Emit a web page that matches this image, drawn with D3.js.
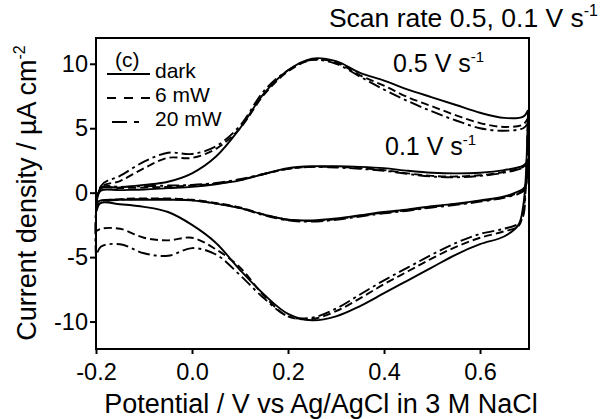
<!DOCTYPE html>
<html>
<head>
<meta charset="utf-8">
<script src="https://cdn.jsdelivr.net/npm/d3@7/dist/d3.min.js"></script>
<style>
  html, body { margin: 0; padding: 0; background: #fff; }
  svg text { font-family: "Liberation Sans", Arial, sans-serif; fill: #000; }
</style>
</head>
<body>
<svg id="chart" width="608" height="419"></svg>
<script>
// ---- Data ----
const potFwd = [-0.2, -0.19, -0.15, -0.1, -0.05, 0.0, 0.05, 0.1, 0.15, 0.2, 0.25, 0.3, 0.35, 0.4, 0.45, 0.5, 0.55, 0.6, 0.65, 0.69, 0.7];
const potRev = [0.7, 0.695, 0.69, 0.68, 0.65, 0.6, 0.55, 0.5, 0.45, 0.4, 0.35, 0.3, 0.25, 0.2, 0.15, 0.1, 0.05, 0.0, -0.05, -0.1, -0.15, -0.19, -0.2];

// 0.5 V/s
const dark05Fwd = [-1.5, 0.3, 0.4, 0.6, 0.85, 1.5, 2.8, 5.0, 7.7, 9.5, 10.4, 10.2, 9.3, 8.7, 8.0, 7.4, 6.8, 6.2, 5.8, 5.9, 6.4];
const dark05Rev = [6.4, 1.0, -1.0, -2.5, -3.4, -4.0, -4.8, -5.8, -6.8, -7.8, -8.8, -9.6, -9.9, -9.4, -7.9, -6.0, -3.9, -2.5, -1.5, -1.1, -0.9, -0.8, -1.5];
const mw6_05Fwd = [-3.0, 0.4, 0.9, 1.9, 2.7, 2.7, 3.4, 5.0, 7.6, 9.4, 10.3, 10.1, 9.1, 8.3, 7.4, 6.7, 6.0, 5.4, 5.1, 5.3, 5.8];
const mw6_05Rev = [5.8, 0.5, -1.5, -2.6, -3.0, -3.5, -4.2, -5.1, -6.1, -7.1, -8.2, -9.2, -9.8, -9.6, -8.0, -5.8, -4.4, -3.5, -3.7, -3.5, -2.8, -2.8, -3.0];
const mw20_05Fwd = [-5.0, 0.5, 1.3, 2.4, 3.1, 3.0, 3.6, 5.2, 7.9, 9.5, 10.3, 10.0, 9.0, 8.0, 7.1, 6.3, 5.6, 5.0, 4.8, 5.0, 5.4];
const mw20_05Rev = [5.4, 0.3, -1.8, -2.4, -2.8, -3.2, -3.9, -4.8, -5.8, -6.8, -7.9, -9.0, -9.7, -9.6, -8.2, -6.4, -4.8, -4.3, -4.9, -4.7, -4.0, -4.2, -5.0];

// 0.1 V/s
const dark01Fwd = [-0.8, 0.15, 0.2, 0.25, 0.35, 0.45, 0.65, 0.95, 1.45, 1.9, 2.05, 2.05, 2.0, 1.9, 1.7, 1.55, 1.5, 1.55, 1.75, 2.1, 2.5];
const dark01Rev = [2.5, 0.6, 0.3, 0.1, -0.3, -0.6, -0.85, -1.05, -1.3, -1.5, -1.75, -2.0, -2.15, -2.1, -1.7, -1.2, -0.85, -0.6, -0.55, -0.55, -0.55, -0.6, -0.8];
const mw6_01Fwd = [-1.2, 0.3, 0.35, 0.4, 0.45, 0.55, 0.7, 1.0, 1.45, 1.85, 2.0, 2.0, 1.9, 1.75, 1.5, 1.3, 1.25, 1.35, 1.6, 2.0, 2.4];
const mw6_01Rev = [2.4, 0.5, 0.2, 0.0, -0.35, -0.65, -0.9, -1.1, -1.35, -1.55, -1.8, -2.05, -2.2, -2.1, -1.7, -1.15, -0.8, -0.55, -0.45, -0.45, -0.5, -0.7, -1.2];
const mw20_01Fwd = [-1.5, 0.4, 0.45, 0.5, 0.55, 0.6, 0.75, 1.05, 1.45, 1.85, 2.0, 1.95, 1.85, 1.7, 1.45, 1.25, 1.2, 1.3, 1.55, 1.95, 2.3];
const mw20_01Rev = [2.3, 0.4, 0.1, -0.1, -0.4, -0.7, -0.95, -1.15, -1.4, -1.6, -1.85, -2.1, -2.25, -2.15, -1.75, -1.2, -0.85, -0.6, -0.5, -0.5, -0.55, -0.8, -1.5];

const xTicks = [-0.2, 0.0, 0.2, 0.4, 0.6];
const yTicks = [-10, -5, 0, 5, 10];
const legendLabels = ["dark", "6 mW", "20 mW"];

// ---- Layout ----
const svg = d3.select("#chart");
const L = 96, R = 529, T = 38, B = 349;
const x = d3.scaleLinear().domain([-0.2, 0.702]).range([L, R]);
const y = d3.scaleLinear().domain([-12.13, 12]).range([B, T]);

const styles = {
  dark: null,
  mw6: "8,4",
  mw20: "12,4,3,4"
};

const series = [
  { fwd: dark05Fwd, rev: dark05Rev, dash: styles.dark },
  { fwd: mw6_05Fwd, rev: mw6_05Rev, dash: styles.mw6 },
  { fwd: mw20_05Fwd, rev: mw20_05Rev, dash: styles.mw20 },
  { fwd: dark01Fwd, rev: dark01Rev, dash: styles.dark },
  { fwd: mw6_01Fwd, rev: mw6_01Rev, dash: styles.mw6 },
  { fwd: mw20_01Fwd, rev: mw20_01Rev, dash: styles.mw20 }
];

const line = d3.line()
  .x(d => x(d[0])).y(d => y(d[1]))
  .curve(d3.curveCatmullRom.alpha(0.5));

const plot = svg.append("g");
series.forEach(s => {
  const pts = potFwd.map((v, i) => [v, s.fwd[i]])
    .concat(potRev.map((v, i) => [v, s.rev[i]]));
  plot.append("path")
    .attr("d", line(pts))
    .attr("fill", "none")
    .attr("stroke", "#000")
    .attr("stroke-width", 1.9)
    .attr("stroke-dasharray", s.dash);
});

// Frame
svg.append("rect")
  .attr("x", L).attr("y", T).attr("width", R - L).attr("height", B - T)
  .attr("fill", "none").attr("stroke", "#000").attr("stroke-width", 2);

// Axes
const xAxis = svg.append("g").attr("transform", `translate(0,${B})`)
  .call(d3.axisBottom(x).tickValues(xTicks).tickFormat(d => d.toFixed(1)).tickSize(5).tickSizeOuter(0).tickPadding(9));
const yAxis = svg.append("g").attr("transform", `translate(${L},0)`)
  .call(d3.axisLeft(y).tickValues(yTicks).tickFormat(d => String(d)).tickSize(6).tickSizeOuter(0).tickPadding(2));
[xAxis, yAxis].forEach(g => {
  g.select(".domain").remove();
  g.selectAll(".tick line").attr("stroke", "#000").attr("stroke-width", 2);
  g.selectAll(".tick text").attr("font-size", 23.5).attr("font-family", "Liberation Sans, Arial, sans-serif").attr("fill", "#000");
});

// Axis titles
svg.append("text")
  .attr("x", 321).attr("y", 413)
  .attr("text-anchor", "middle").attr("font-size", 27)
  .text("Potential / V vs Ag/AgCl in 3 M NaCl");

const yt = svg.append("text")
  .attr("transform", "translate(36,193) rotate(-90)")
  .attr("text-anchor", "middle").attr("font-size", 27);
yt.append("tspan").text("Current density / µA cm");
yt.append("tspan").attr("font-size", 16).attr("dy", -11).text("-2");

// Title
const tt = svg.append("text")
  .attr("x", 598).attr("y", 27)
  .attr("text-anchor", "end").attr("font-size", 26.5);
tt.append("tspan").text("Scan rate 0.5, 0.1 V s");
tt.append("tspan").attr("font-size", 16).attr("dy", -11).text("-1");

// Annotations
function rateLabel(xp, yp, txt) {
  const t = svg.append("text").attr("x", xp).attr("y", yp).attr("font-size", 25);
  t.append("tspan").text(txt + " V s");
  t.append("tspan").attr("font-size", 15).attr("dy", -10).text("-1");
}
rateLabel(393, 72, "0.5");
rateLabel(385, 155, "0.1");

// Legend
svg.append("text").attr("x", 115).attr("y", 67).attr("font-size", 21).text("(c)");
const legDash = [null, "9,8", "15,7,5,20"];
const legY = [74, 98, 122];
legendLabels.forEach((lab, i) => {
  svg.append("line")
    .attr("x1", i === 2 ? 112 : 107).attr("x2", 150)
    .attr("y1", legY[i]).attr("y2", legY[i])
    .attr("stroke", "#000").attr("stroke-width", 2)
    .attr("stroke-dasharray", legDash[i]);
  svg.append("text").attr("x", 155).attr("y", legY[i] + 4).attr("font-size", 21).text(lab);
});
</script>
</body>
</html>
